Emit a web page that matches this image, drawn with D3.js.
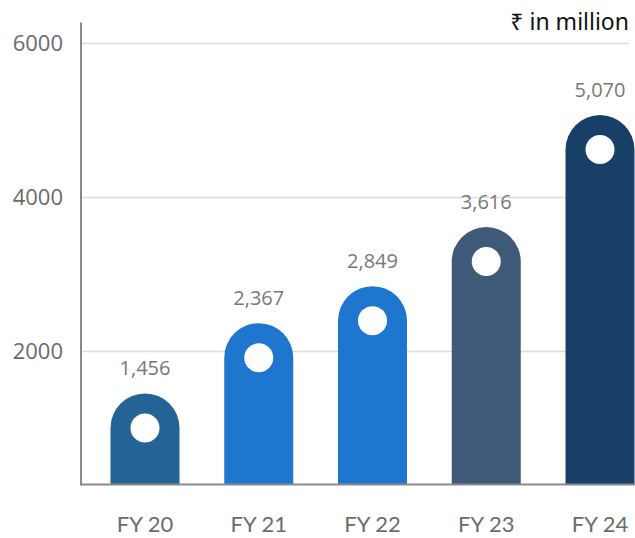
<!DOCTYPE html>
<html>
<head>
<meta charset="utf-8">
<script src="https://cdn.jsdelivr.net/npm/d3@7"></script>
<style>
  html, body { margin: 0; padding: 0; background: #ffffff; }
  svg { display: block; }
</style>
</head>
<body>
<svg id="chart" width="635" height="538"></svg>
<script>
// Revenue by fiscal year (₹ in million)
const categories = ["FY 20", "FY 21", "FY 22", "FY 23", "FY 24"];
const values = [1456, 2367, 2849, 3616, 5070];
const barColors = ["#246396", "#1e76cf", "#1e76cf", "#3e5a78", "#183f68"];
const tickValues = [2000, 4000, 6000];
const unitLabel = "₹ in million";

const svg = d3.select("#chart");

const axisX = 81;
const baseY = 484.5;
const rightX = 629;
const barWidth = 69;

const x = d3.scalePoint().domain(categories).range([145, 600]);
const y = d3.scaleLinear().domain([0, 6000]).range([505.5, 43.5]);

// horizontal gridlines
svg.append("g")
  .selectAll("line")
  .data(tickValues)
  .join("line")
  .attr("x1", axisX)
  .attr("x2", rightX)
  .attr("y1", d => y(d))
  .attr("y2", d => y(d))
  .attr("stroke", "#dcdcdc")
  .attr("stroke-width", 1.5);

// y tick labels
svg.append("g")
  .selectAll("text")
  .data(tickValues)
  .join("text")
  .attr("x", 63)
  .attr("y", d => y(d))
  .attr("dy", "0.35em")
  .attr("text-anchor", "end")
  .attr("font-family", "'Open Sans', sans-serif")
  .attr("font-size", 22)
  .attr("fill", "#6b6b6b")
  .text(d => d);

// bars with a rounded cap
function barPath(cx, top) {
  const r = barWidth / 2;
  const x0 = cx - r, x1 = cx + r;
  return `M${x0},${baseY} L${x0},${top + r} A${r},${r} 0 0 1 ${x1},${top + r} L${x1},${baseY} Z`;
}

const bars = svg.append("g")
  .selectAll("g")
  .data(categories.map((c, i) => ({ c, v: values[i], color: barColors[i] })))
  .join("g");

bars.append("path")
  .attr("d", d => barPath(x(d.c), y(d.v)))
  .attr("fill", d => d.color);

bars.append("circle")
  .attr("cx", d => x(d.c))
  .attr("cy", d => y(d.v) + barWidth / 2)
  .attr("r", 14.5)
  .attr("fill", "#ffffff");

bars.append("text")
  .attr("x", d => x(d.c))
  .attr("y", d => y(d.v) - 18)
  .attr("text-anchor", "middle")
  .attr("font-family", "'Open Sans', sans-serif")
  .attr("font-size", 20)
  .attr("fill", "#787878")
  .text(d => d3.format(",")(d.v));

// category labels
svg.append("g")
  .selectAll("text")
  .data(categories)
  .join("text")
  .attr("x", d => x(d))
  .attr("y", 531.5)
  .attr("text-anchor", "middle")
  .attr("font-family", "Lato, sans-serif")
  .attr("font-size", 22)
  .attr("fill", "#6b6b6b")
  .text(d => d);

// axis lines
svg.append("line")
  .attr("x1", axisX).attr("x2", axisX)
  .attr("y1", 22.5).attr("y2", baseY + 1)
  .attr("stroke", "#8a8a8a").attr("stroke-width", 2);
svg.append("line")
  .attr("x1", axisX).attr("x2", 635)
  .attr("y1", baseY).attr("y2", baseY)
  .attr("stroke", "#8a8a8a").attr("stroke-width", 2);

// unit label
svg.append("text")
  .attr("x", rightX)
  .attr("y", 30)
  .attr("text-anchor", "end")
  .attr("font-family", "'Noto Sans', sans-serif")
  .attr("font-size", 23)
  .attr("fill", "#111111")
  .text(unitLabel);
</script>
</body>
</html>
